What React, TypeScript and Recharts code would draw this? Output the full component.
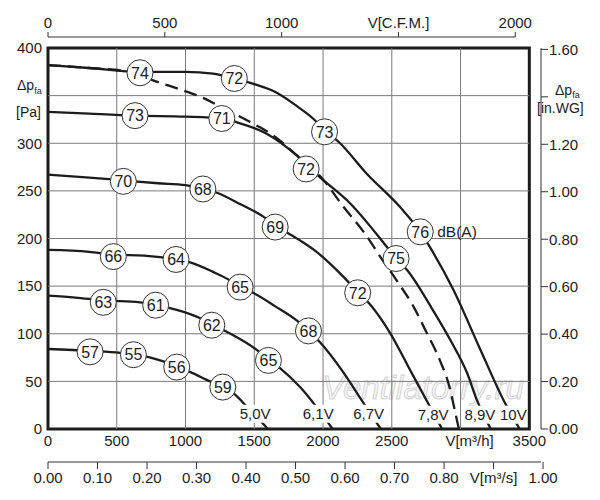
import {
  ComposedChart,
  Line,
  Scatter,
  XAxis,
  YAxis,
  ReferenceLine,
  ReferenceArea,
  Customized,
} from "recharts";

const FONT = '"Liberation Sans", Arial, Helvetica, sans-serif';
const INK = "#1c1c1c";
const GRID = "#7a7a7a";

// axis ticks
const flowTicks = [0, 500, 1000, 1500, 2000, 2500, 3000, 3500];
const cfmTicks = [0, 500, 1000, 1500, 2000];
const m3sTicks = [0, 0.1, 0.2, 0.3, 0.4, 0.5, 0.6, 0.7, 0.8, 0.9, 1.0];
const paTicks = [0, 50, 100, 150, 200, 250, 300, 350, 400];
const inwgTicks = [0, 0.2, 0.4, 0.6, 0.8, 1.0, 1.2, 1.4, 1.6];

// fan curves: [flow m³/h, static pressure Pa]
const fan50V = [
  [0, 84], [306, 82], [524, 80], [621, 78], [717, 76], [838, 71], [936, 66],
  [1033, 60], [1178, 50], [1271, 44], [1360, 36], [1455, 22], [1600, 0],
];
const fan61V = [
  [0, 140], [200, 138], [402, 135], [669, 133], [783, 130], [887, 127], [1081, 118],
  [1191, 110], [1300, 102], [1518, 83], [1603, 73], [1687, 64], [1833, 44], [1953, 23], [2070, 0],
];
const fan67V = [
  [0, 188], [300, 186], [475, 183], [700, 182], [931, 178], [1033, 175], [1200, 165],
  [1324, 156], [1397, 149], [1491, 143], [1650, 129], [1808, 114], [1894, 103], [1978, 91],
  [2145, 60], [2291, 28], [2420, 0],
];
const fan78V = [
  [0, 267], [300, 264], [548, 261], [800, 258], [1000, 256], [1126, 252], [1227, 248],
  [1400, 236], [1566, 223], [1652, 214], [1833, 198], [1953, 186], [2147, 160], [2252, 144],
  [2341, 131], [2487, 101], [2633, 62], [2764, 27], [2866, 0],
];
const fan89V = [
  [0, 333], [300, 331], [633, 329], [1000, 328], [1264, 326], [1374, 322], [1590, 310],
  [1811, 287], [1964, 266], [2196, 237], [2465, 191], [2531, 179], [2611, 167], [2790, 127],
  [2935, 91], [3047, 59], [3120, 30], [3220, 0],
];
const fan10V = [
  [0, 382], [300, 379], [669, 375], [1000, 375], [1200, 373], [1355, 368], [1500, 362],
  [1650, 354], [1800, 340], [1927, 326], [2011, 314], [2124, 300], [2318, 268], [2560, 233],
  [2707, 207], [2764, 194], [2945, 147], [3142, 84], [3324, 27], [3430, 0],
];
const fanDashed = [
  [0, 382], [300, 379], [600, 375], [764, 366], [950, 357], [1105, 349], [1300, 335],
  [1500, 320], [1650, 307], [1811, 287], [2000, 262], [2150, 233], [2300, 206], [2420, 180],
  [2540, 155], [2660, 128], [2750, 102], [2850, 72], [2920, 44], [2965, 15], [2988, 0],
];

// sound level marks: [flow m³/h, pressure Pa, dB(A)]
const db50V = [[306, 81, 57], [621, 78, 55], [936, 65, 56], [1271, 44, 59]];
const db61V = [[402, 133, 63], [783, 130, 61], [1191, 109, 62], [1603, 72, 65]];
const db67V = [[475, 181, 66], [931, 178, 64], [1397, 149, 65], [1894, 103, 68]];
const db78V = [[548, 260, 70], [1126, 252, 68], [1652, 212, 69], [2252, 143, 72]];
const db89V = [[633, 329, 73], [1264, 326, 71], [1877, 273, 72], [2531, 179, 75]];
const db10V = [[669, 374, 74], [1355, 368, 72], [2011, 312, 73], [2707, 207, 76]];

// voltage tags at the curve ends
const voltTags = [
  { q: 1506, p: 16, t: "5,0V" },
  { q: 1965, p: 16, t: "6,1V" },
  { q: 2332, p: 16, t: "6,7V" },
  { q: 2801, p: 15, t: "7,8V" },
  { q: 3140, p: 15, t: "8,9V" },
  { q: 3384, p: 15, t: "10V" },
];

// tick values printed without a number
const paUnlabelled = [350];
const inwgUnlabelled = [1.4];

// axis frame
const Q_FRAME = 3500;
const P_FRAME = 400;
const Q_END = 3585; // flow at the in.WG axis line
const CFM_END = Q_END / 1.699;
const M3S_END = Q_END / 3600;
const INWG_END = P_FRAME / 249.09;

const W = 600;
const H = 500;
const LEFT_W = 48;
const RIGHT_W = 59;
const PLOT_W = W - LEFT_W - RIGHT_W;
const CFM_LINE = (PLOT_W * 2000) / CFM_END;

const toPts = (rows: number[][]) => rows.map(([q, p]) => ({ q, p }));
const dbPts = [db50V, db61V, db67V, db78V, db89V, db10V]
  .flat()
  .map(([q, p, db]) => ({ q, p, db, unit: db === 76 && q > 2600 ? "dB(A)" : "" }));
const cfmRows = cfmTicks.map((cfm) => ({ cfm, p: 0 }));
const m3sRows = m3sTicks.map((m3s) => ({ m3s, p: 0 }));

const solidCurves = [fan50V, fan61V, fan67V, fan78V, fan89V, fan10V];

function FlowTick({ x, y, payload }: any) {
  const v = payload.value;
  const named = v === 3000;
  return (
    <text
      x={named ? x + 9 : x}
      y={y}
      dy="0.75em"
      textAnchor="middle"
      fill={INK}
      fontSize={15}
      fontFamily={FONT}
    >
      {named ? "V[m³/h]" : v}
    </text>
  );
}

function Badge({ cx, cy, payload }: any) {
  return (
    <g>
      <circle cx={cx} cy={cy} r={13} fill="#fff" stroke="#333" strokeWidth={1} />
      <text x={cx} y={cy} dy="0.36em" textAnchor="middle" fontSize={16} fill={INK} fontFamily={FONT}>
        {payload.db}
      </text>
      {payload.unit ? (
        <text x={cx + 17} y={cy} dy="0.36em" fontSize={15.5} fill={INK} fontFamily={FONT}>
          {payload.unit}
        </text>
      ) : null}
    </g>
  );
}

function VoltTag({ cx, cy, payload }: any) {
  const w = payload.t.length * 8.2 + 1;
  return (
    <g>
      <rect x={cx - w / 2} y={cy - 9} width={w} height={18} fill="#fff" />
      <text x={cx} y={cy} dy="0.36em" textAnchor="middle" fontSize={15} fill={INK} fontFamily={FONT}>
        {payload.t}
      </text>
    </g>
  );
}

function Watermark() {
  return (
    <text
      x={423}
      y={399}
      textAnchor="middle"
      fontSize={33}
      fontStyle="italic"
      fontFamily={FONT}
      fill="#f5f5f5"
      stroke="#d2d2d2"
      strokeWidth={0.9}
    >
      Ventilatorry.ru
    </text>
  );
}

function AxisTitles() {
  return (
    <g fill={INK} fontFamily={FONT}>
      <text x={17} y={90} fontSize={14}>
        Δp<tspan fontSize={9} dy={4}>fa</tspan>
      </text>
      <text x={16} y={117} fontSize={14}>[Pa]</text>
      <text x={555} y={95} fontSize={14}>
        Δp<tspan fontSize={9} dy={3}>fa</tspan>
      </text>
      <rect x={537} y={101} width={48} height={15} fill="#fff" />
      <text x={537} y={113} fontSize={14}>[in.WG]</text>
    </g>
  );
}

const hidden = { stroke: "none", dot: false, activeDot: false, isAnimationActive: false } as const;

export default function App() {
  const tickStyle = { fill: INK, fontSize: 15, fontFamily: FONT };
  return (
    <div style={{ position: "absolute", left: 0, top: 0, width: W, height: H, background: "#fff" }}>
      <ComposedChart
        width={W}
        height={H}
        margin={{ top: 0, right: 0, bottom: 0, left: 0 }}
        style={{ fontFamily: FONT }}
      >
        <XAxis xAxisId="agap" orientation="top" type="number" domain={[0, 1]} height={11}
          tick={false} axisLine={false} tickLine={false} />
        <XAxis
          xAxisId="cfm"
          dataKey="cfm"
          orientation="top"
          type="number"
          domain={[0, CFM_END]}
          allowDataOverflow
          ticks={cfmTicks}
          interval={0}
          height={37}
          tickSize={5}
          tickMargin={4}
          tick={tickStyle}
          tickLine={{ stroke: "#333" }}
          axisLine={{ stroke: "#333", strokeDasharray: `${CFM_LINE} 999` }}
          tickFormatter={(v: number) => (v === 1500 ? "V[C.F.M.]" : String(v))}
        />
        <XAxis
          xAxisId="h"
          dataKey="q"
          type="number"
          domain={[0, Q_END]}
          allowDataOverflow
          ticks={flowTicks}
          interval={0}
          height={33}
          tickSize={0}
          tickMargin={6}
          tick={<FlowTick />}
          axisLine={false}
          tickLine={false}
        />
        <XAxis
          xAxisId="s"
          dataKey="m3s"
          type="number"
          domain={[0, M3S_END]}
          allowDataOverflow
          ticks={m3sTicks}
          interval={0}
          height={38}
          tickSize={7}
          tickMargin={3}
          tick={tickStyle}
          tickLine={{ stroke: "#333" }}
          axisLine={{ stroke: "#333" }}
          tickFormatter={(v: number) => (Math.abs(v - 0.9) < 1e-6 ? "V[m³/s]" : v.toFixed(2))}
        />
        <YAxis
          yAxisId="pa"
          dataKey="p"
          type="number"
          domain={[0, P_FRAME]}
          ticks={paTicks}
          interval={0}
          width={LEFT_W}
          tickSize={0}
          tickMargin={6}
          tick={tickStyle}
          axisLine={false}
          tickLine={false}
          tickFormatter={(v: number) => (paUnlabelled.includes(v) ? "" : String(v))}
        />
        <YAxis
          yAxisId="inwg"
          orientation="right"
          type="number"
          domain={[0, INWG_END]}
          allowDataOverflow
          ticks={inwgTicks}
          interval={0}
          width={RIGHT_W}
          tickSize={7}
          tickMargin={1}
          tick={tickStyle}
          tickLine={{ stroke: "#333" }}
          axisLine={{ stroke: "#333" }}
          tickFormatter={(v: number) =>
            inwgUnlabelled.some((u) => Math.abs(u - v) < 1e-6) ? "" : v.toFixed(2)
          }
        />

        {/* carriers so the secondary flow axes get a scale */}
        <Line xAxisId="cfm" yAxisId="pa" data={cfmRows} dataKey="p" {...hidden} />
        <Line xAxisId="s" yAxisId="pa" data={m3sRows} dataKey="p" {...hidden} />

        {flowTicks.slice(1, -1).map((v) => (
          <ReferenceLine key={"gx" + v} xAxisId="h" yAxisId="pa" x={v} stroke={GRID} strokeWidth={1} />
        ))}
        {paTicks.slice(1, -1).map((v) => (
          <ReferenceLine
            key={"gy" + v}
            xAxisId="h"
            yAxisId="pa"
            segment={[{ x: 0, y: v }, { x: Q_FRAME, y: v }]}
            stroke={GRID}
            strokeWidth={1}
          />
        ))}

        <Customized component={<Watermark />} />

        {solidCurves.map((c, i) => (
          <Line
            key={"fan" + i}
            xAxisId="h"
            yAxisId="pa"
            data={toPts(c)}
            dataKey="p"
            type="monotone"
            stroke={INK}
            strokeWidth={2.3}
            dot={false}
            activeDot={false}
            isAnimationActive={false}
          />
        ))}
        <Line
          xAxisId="h"
          yAxisId="pa"
          data={toPts(fanDashed)}
          dataKey="p"
          type="monotone"
          stroke={INK}
          strokeWidth={2.3}
          strokeDasharray="13 7"
          dot={false}
          activeDot={false}
          isAnimationActive={false}
        />

        <ReferenceArea
          xAxisId="h"
          yAxisId="pa"
          x1={0}
          x2={Q_FRAME}
          y1={0}
          y2={P_FRAME}
          fill="none"
          fillOpacity={0}
          stroke={INK}
          strokeWidth={3}
          ifOverflow="visible"
        />

        <Scatter
          xAxisId="h"
          yAxisId="pa"
          data={voltTags}
          shape={(p: any) => <VoltTag {...p} />}
          isAnimationActive={false}
        />
        <Scatter
          xAxisId="h"
          yAxisId="pa"
          data={dbPts}
          shape={(p: any) => <Badge {...p} />}
          isAnimationActive={false}
        />

        <Customized component={<AxisTitles />} />
      </ComposedChart>
    </div>
  );
}
